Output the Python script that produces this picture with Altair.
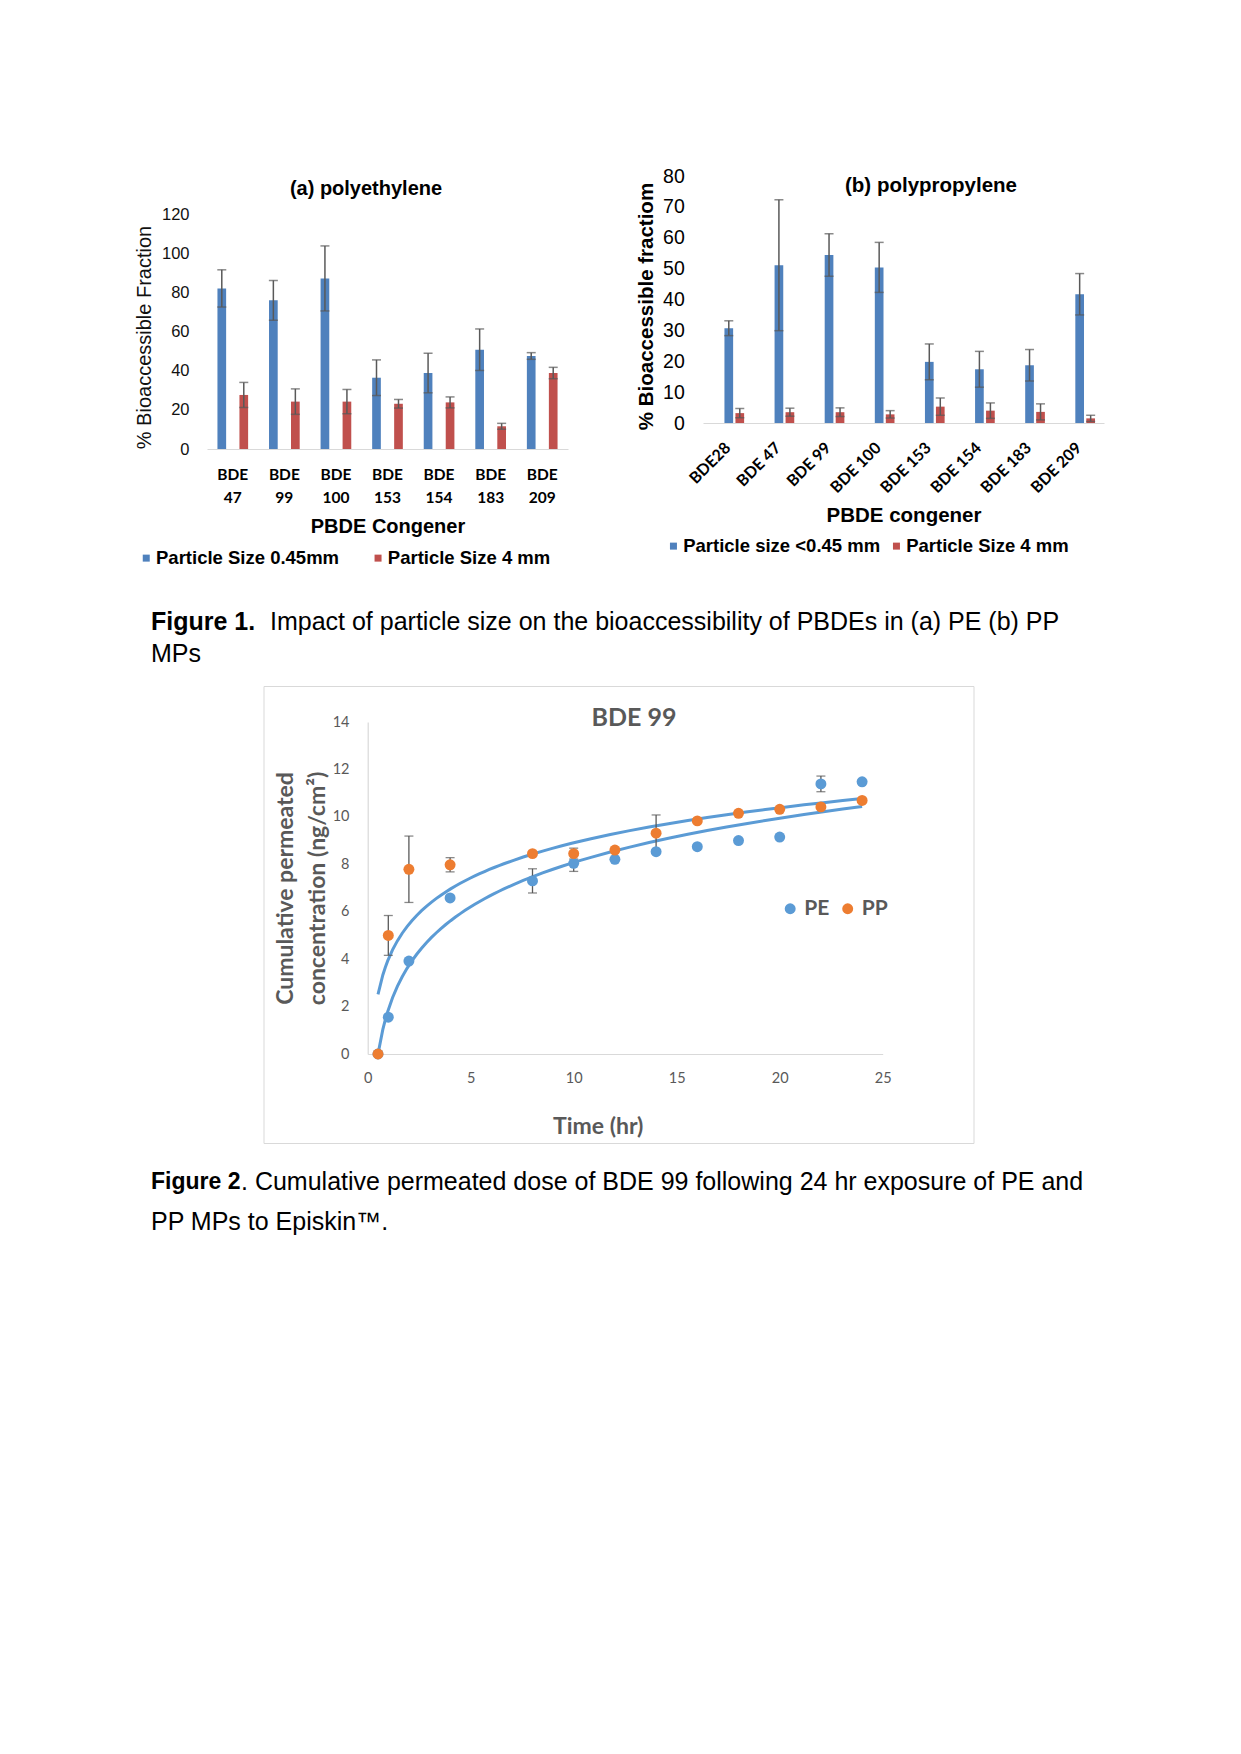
import altair as alt
import pandas as pd

ARIAL = "Liberation Sans"
CAL = "Lato"
BLUE = "#4F81BD"
RED = "#C0504D"
ERR = "#595959"
PE_C = "#5B9BD5"
PP_C = "#ED7D31"
TREND = "#5B9BD5"
GREY = "#595959"

# ---------------- data: (a) polyethylene ----------------
pe_congeners = ["BDE 47", "BDE 99", "BDE 100", "BDE 153", "BDE 154", "BDE 183", "BDE 209"]
pe_series = ["Particle Size 0.45mm", "Particle Size 4 mm"]
pe_small = [82.0, 75.9, 87.1, 36.4, 38.8, 50.7, 47.5]
pe_small_err = [9.5, 10.2, 16.6, 9.1, 10.1, 10.6, 1.7]
pe_large = [27.6, 24.2, 24.2, 23.1, 23.8, 11.6, 38.8]
pe_large_err = [6.4, 6.5, 6.2, 2.2, 2.8, 1.5, 2.9]
pe_ticks = [0, 20, 40, 60, 80, 100, 120]

# ---------------- data: (b) polypropylene ----------------
pp_congeners = ["BDE28", "BDE 47", "BDE 99", "BDE 100", "BDE 153", "BDE 154", "BDE 183", "BDE 209"]
pp_series = ["Particle size <0.45 mm", "Particle Size 4 mm"]
pp_small = [30.7, 51.1, 54.4, 50.4, 19.8, 17.4, 18.7, 41.7]
pp_small_err = [2.4, 21.2, 6.9, 8.1, 5.8, 5.8, 5.1, 6.7]
pp_large = [3.2, 3.5, 3.5, 2.8, 5.3, 4.0, 3.6, 1.5]
pp_large_err = [1.5, 1.3, 1.4, 1.2, 2.8, 2.5, 2.6, 1.0]
pp_ticks = [0, 10, 20, 30, 40, 50, 60, 70, 80]

# ---------------- data: BDE 99 permeation ----------------
polymers = ["PE", "PP"]
time_hr = [0.5, 1, 2, 4, 8, 10, 12, 14, 16, 18, 20, 22, 24]
pe_perm = [0.0, 1.55, 3.92, 6.58, 7.30, 8.04, 8.21, 8.53, 8.74, 9.00, 9.15, 11.39, 11.48]
pe_perm_err = [0, 0, 0, 0, 0.51, 0.34, 0, 0, 0, 0, 0, 0.33, 0]
pp_perm = [0.0, 5.00, 7.79, 7.98, 8.45, 8.45, 8.60, 9.31, 9.83, 10.15, 10.32, 10.42, 10.69]
pp_perm_err = [0, 0.84, 1.40, 0.30, 0, 0.23, 0, 0.77, 0, 0, 0, 0, 0]
time_ticks = [0, 5, 10, 15, 20, 25]
perm_ticks = [0, 2, 4, 6, 8, 10, 12, 14]

# ---------------- titles and captions ----------------
title_a = "(a) polyethylene"
title_b = "(b) polypropylene"
title_c = "BDE 99"
cap1_bold = "Figure 1."
cap1_text = "Impact of particle size on the bioaccessibility of PBDEs in (a) PE (b) PP"
cap1_line2 = "MPs"
cap2_bold = "Figure 2"
cap2_text = ". Cumulative permeated dose of BDE 99 following 24 hr exposure of PE and"
cap2_line2 = "PP MPs to Episkin\u2122."


def bars_df(cats, v1, e1, v2, e2, series):
    rows = []
    for name, vals, errs in ((series[0], v1, e1), (series[1], v2, e2)):
        for c, v, e in zip(cats, vals, errs):
            rows.append({"cong": c, "size": name, "val": v, "lo": v - e, "hi": v + e})
    return pd.DataFrame(rows)


df_a = bars_df(pe_congeners, pe_small, pe_small_err, pe_large, pe_large_err, pe_series)
df_b = bars_df(pp_congeners, pp_small, pp_small_err, pp_large, pp_large_err, pp_series)

perm_rows = []
for name, vals, errs in (("PE", pe_perm, pe_perm_err), ("PP", pp_perm, pp_perm_err)):
    for t, v, e in zip(time_hr, vals, errs):
        perm_rows.append({"t": t, "v": v, "lo": v - e, "hi": v + e, "err": e, "polymer": name})
df_c = pd.DataFrame(perm_rows)

one = pd.DataFrame({"k": [0]})


def text_mark(txt, x, y, font, size, weight, color, align="left"):
    return alt.Chart(pd.DataFrame({"t": [txt]})).mark_text(
        align=align, baseline="middle", font=font, fontSize=size,
        fontWeight=weight, color=color).encode(
        text="t:N", x=alt.value(x), y=alt.value(y))


def bar_panel(df, cats, series, width, height, yrange, ymax, xaxis, yaxis,
              legend, po, extras):
    xscale = alt.Scale(paddingInner=0, paddingOuter=0)
    xoscale = alt.Scale(paddingInner=0.21, paddingOuter=po)
    yscale = alt.Scale(domain=[0, ymax], range=yrange, nice=False)
    x = alt.X("cong:N", sort=cats, scale=xscale, axis=xaxis)
    xo = alt.XOffset("size:N", sort=series, scale=xoscale)
    base = alt.Chart(df)
    bars = base.mark_bar().encode(
        x=x, xOffset=xo, y=alt.Y("val:Q", scale=yscale, axis=yaxis),
        color=alt.Color("size:N", sort=series,
                        scale=alt.Scale(domain=series, range=[BLUE, RED]),
                        legend=legend),
    )
    err = base.mark_rule(color=ERR, strokeWidth=1.5).encode(
        x=x, xOffset=xo, y=alt.Y("lo:Q", scale=yscale, axis=yaxis), y2="hi:Q")
    cap_hi = base.mark_tick(color=ERR, orient="horizontal", size=9, thickness=1.5).encode(
        x=x, xOffset=xo, y=alt.Y("hi:Q", scale=yscale, axis=yaxis))
    cap_lo = base.mark_tick(color=ERR, orient="horizontal", size=9, thickness=1.5).encode(
        x=x, xOffset=xo, y=alt.Y("lo:Q", scale=yscale, axis=yaxis))
    return alt.layer(bars, err, cap_hi, cap_lo, *extras).properties(width=width, height=height)


# ---------------- chart (a) ----------------
A_W, A_H = 361, 273
a_xaxis = alt.Axis(
    title="PBDE Congener", labelAngle=0, labelExpr="split(datum.label, ' ')",
    labelFont=CAL, labelFontWeight="bold", labelFontSize=15.5, labelColor="#000",
    labelPadding=18, labelLineHeight=23.4, ticks=False,
    domainColor="#D9D9D9", domainWidth=1,
    titleFont=ARIAL, titleFontSize=20, titleFontWeight="bold", titleColor="#000",
    titleY=77, titleBaseline="middle",
)
a_yaxis = alt.Axis(
    values=pe_ticks, tickCount=7, domain=False, ticks=False, grid=False,
    labelOverlap=False,
    labelFont=ARIAL, labelFontSize=16.5, labelColor="#111", labelPadding=18,
    title="% Bioaccessible Fraction", titleFont=ARIAL, titleFontWeight="normal",
    titleFontSize=20, titleColor="#111", titleAngle=270, titleX=-63, titleY=161,
    titleBaseline="middle", titleAlign="center",
)
a_legend = alt.Legend(
    title=None, orient="none", legendX=-70, legendY=372.75, direction="horizontal",
    symbolType="square", symbolSize=49, symbolStrokeWidth=0, labelFont=ARIAL,
    labelFontWeight="bold", labelFontSize=18.5, labelColor="#000", labelOffset=0.5,
    columnPadding=28.8, padding=0, labelLimit=500,
)
a_anchor = alt.Chart(one).mark_rule(strokeOpacity=0).encode(
    x=alt.value(-86), y=alt.value(-25), y2=alt.value(405))
a_title = text_mark(title_a, 159, 13, ARIAL, 20, "bold", "#000", align="center")
chart_a = bar_panel(df_a, pe_congeners, pe_series, A_W, A_H, [A_H, 38], 120,
                    a_xaxis, a_yaxis, a_legend, 0.95, [a_anchor, a_title])

# ---------------- chart (b) ----------------
B_W, B_H = 401, 247
b_xaxis = alt.Axis(
    title="PBDE congener", labelAngle=315, labelAlign="right", labelBaseline="middle",
    labelFont=CAL, labelFontWeight="bold", labelFontSize=16, labelColor="#000",
    labelPadding=22, ticks=False, domainColor="#D9D9D9", domainWidth=1,
    titleFont=ARIAL, titleFontSize=20.5, titleFontWeight="bold", titleColor="#000",
    titleY=92, titleBaseline="middle",
)
b_yaxis = alt.Axis(
    values=pp_ticks, tickCount=9, domain=False, ticks=False, grid=False,
    labelOverlap=False,
    labelFont=ARIAL, labelFontSize=19.5, labelColor="#000", labelPadding=18.7,
    title="% Bioaccessible fractiom", titleFont=ARIAL, titleFontWeight="bold",
    titleFontSize=20.5, titleColor="#000", titleAngle=270, titleX=-57, titleY=130,
    titleBaseline="middle", titleAlign="center",
)
b_legend = alt.Legend(
    title=None, orient="none", legendX=-38.8, legendY=360.75, direction="horizontal",
    symbolType="square", symbolSize=49, symbolStrokeWidth=0, labelFont=ARIAL,
    labelFontWeight="bold", labelFontSize=18.5, labelColor="#000", labelOffset=0.5,
    columnPadding=7, padding=0, labelLimit=500,
)
b_title = text_mark(title_b, 228, 10, ARIAL, 20.5, "bold", "#000", align="center")
chart_b = bar_panel(df_b, pp_congeners, pp_series, B_W, B_H, [B_H, 0], 80,
                    b_xaxis, b_yaxis, b_legend, 0.9, [b_title])

row1 = alt.hconcat(chart_a, chart_b, spacing=135, bounds="flush").resolve_scale(
    color="independent")

# ---------------- chart BDE 99 ----------------
C_W, C_H = 515, 332
xc = alt.X("t:Q", scale=alt.Scale(domain=[0, 25], nice=False), axis=alt.Axis(
    values=time_ticks, domainColor="#D9D9D9", domainWidth=1.2, ticks=False,
    grid=False, labelFlush=False, labelOverlap=False,
    labelFont=CAL, labelFontSize=14.5, labelColor=GREY, labelPadding=24,
    labelBaseline="middle", title="Time (hr)", titleFont=CAL, titleFontSize=23,
    titleFontWeight="bold", titleColor=GREY, titleX=230, titleY=72.5,
    titleBaseline="middle"))
yc = alt.Y("v:Q", scale=alt.Scale(domain=[0, 14], nice=False), axis=alt.Axis(
    values=perm_ticks, domainColor="#D9D9D9", domainWidth=1.2,
    ticks=False, grid=False, labelFont=CAL, labelFontSize=14.5, labelColor=GREY,
    labelPadding=18.7, labelOverlap=False, labelFlush=False,
    title=["Cumulative permeated", "concentration  (ng/cm\u00b2)"], titleFont=CAL,
    titleFontSize=23, titleFontWeight="bold", titleColor=GREY, titleAngle=270,
    titleX=-82, titleY=166, titleBaseline="middle", titleAlign="center",
    titleLineHeight=31.7))

frame = alt.Chart(one).mark_rect(fillOpacity=0, stroke="#D9D9D9", strokeWidth=1).encode(
    x=alt.value(-103.7), x2=alt.value(606.3), y=alt.value(-35.5), y2=alt.value(421.5))
trend = alt.Chart(df_c).transform_regression(
    "t", "v", method="log", groupby=["polymer"]).mark_line(
    color=TREND, strokeWidth=3).encode(x=xc, y=yc, detail="polymer:N")
errc = alt.Chart(df_c).transform_filter("datum.err > 0")
c_rule = errc.mark_rule(color=ERR, strokeWidth=1.3).encode(x="t:Q", y="lo:Q", y2="hi:Q")
c_hi = errc.mark_tick(color=ERR, orient="horizontal", size=9, thickness=1.3).encode(
    x="t:Q", y="hi:Q")
c_lo = errc.mark_tick(color=ERR, orient="horizontal", size=9, thickness=1.3).encode(
    x="t:Q", y="lo:Q")
pts = alt.Chart(df_c).mark_circle(size=120, opacity=1).encode(
    x="t:Q", y="v:Q",
    color=alt.Color("polymer:N", sort=polymers,
                    scale=alt.Scale(domain=polymers, range=[PE_C, PP_C]),
                    legend=alt.Legend(
                        title=None, orient="none", legendX=412, legendY=176,
                        direction="horizontal", symbolType="circle", symbolSize=120,
                        symbolStrokeWidth=0, symbolOpacity=1, labelFont=CAL,
                        labelFontWeight="bold", labelFontSize=21, labelColor=GREY,
                        labelOffset=3.6, columnPadding=7.5, padding=0)))
c_title = text_mark(title_c, 266.3, -4.5, CAL, 25, "bold", GREY, align="center")
chart_c = alt.layer(frame, trend, c_rule, c_hi, c_lo, pts, c_title).properties(
    width=C_W, height=C_H)

spacer = alt.Chart(one).mark_rule(strokeOpacity=0).encode(
    x=alt.value(0), y=alt.value(0), y2=alt.value(1)).properties(width=100, height=1)
row3 = alt.hconcat(spacer, chart_c, spacing=60.7, bounds="flush").resolve_scale(
    color="independent")


# ---------------- captions ----------------
def box(h):
    return alt.Chart(one).mark_rect(opacity=0).encode(
        x=alt.value(0), x2=alt.value(10), y=alt.value(0), y2=alt.value(h))


cap1 = alt.layer(
    box(101),
    text_mark(cap1_bold, -56, 39, ARIAL, 25, "bold", "#000"),
    text_mark(cap1_text, 63, 39, ARIAL, 25, "normal", "#000"),
    text_mark(cap1_line2, -56, 70.5, ARIAL, 25, "normal", "#000"),
).properties(width=800, height=101)

cap2 = alt.layer(
    box(100),
    text_mark(cap2_bold, -56, 35.5, ARIAL, 23, "bold", "#000"),
    text_mark(cap2_text, 34, 35.5, ARIAL, 25, "normal", "#000"),
    text_mark(cap2_line2, -56, 76, ARIAL, 25, "normal", "#000"),
).properties(width=800, height=100)

chart = alt.vconcat(row1, cap1, row3, cap2, spacing=0).resolve_scale(
    color="independent").properties(
    padding={"left": 112, "top": 142, "right": 5, "bottom": 5}
).configure(background="white").configure_view(stroke="transparent").configure_axis(grid=False)

chart.save("out.html", embed_options={"renderer": "svg", "actions": False})
